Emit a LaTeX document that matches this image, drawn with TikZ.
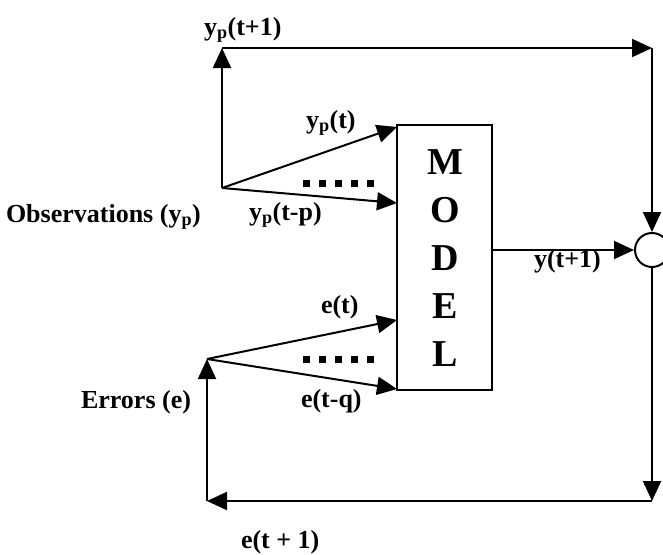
\documentclass[tikz,border=0pt]{standalone}
\usepackage{fontspec}
\setmainfont{Liberation Serif}
\usetikzlibrary{arrows.meta}

\begin{document}
\begin{tikzpicture}[x=1pt, y=-1pt, line width=2pt, >={Triangle[length=20pt, width=18pt]},
  lbl/.style={font=\fontsize{26}{30}\selectfont\bfseries, inner sep=0pt, anchor=base west},
  ltr/.style={font=\fontsize{38}{40}\selectfont\bfseries, inner sep=0pt},
  sq/.style={fill, minimum size=7pt, inner sep=0pt, line width=0pt}]
\useasboundingbox (0,0) rectangle (663,554);
% model block and summing point
\node[draw, minimum width=95pt, minimum height=265pt, inner sep=0pt] (model) at (444.5,257.5) {};
\foreach \ch [count=\i] in {M,O,D,E,L}
  \node[ltr] (let\i) at (445, 114+48*\i) {\ch};
\node[draw, circle, minimum size=34pt, inner sep=0pt] (sum) at (652,250) {};
% corners and fan points
\coordinate (yfan) at (222,188);
\coordinate (efan) at (207,359);
\coordinate (tl) at (222,48);
\coordinate (tr) at (652,48);
\coordinate (br) at (652,501);
\coordinate (bl) at (207,501);
\coordinate (yin1) at (397,127);
\coordinate (yin2) at (397,203);
\coordinate (ein1) at (397,320);
\coordinate (ein2) at (397,389);
% dots
\foreach \k in {0,...,4} {
  \node[sq] (yd\k) at (306+16*\k, 183) {};
  \node[sq] (ed\k) at (306+16*\k, 359.5) {};
}
% labels
\node[lbl] (lyp1) at (203,35) {y\textsubscript{p}(t+1)};
\node[lbl] (lypt) at (305,128) {y\textsubscript{p}(t)};
\node[lbl] (lypp) at (248,220) {y\textsubscript{p}(t-p)};
\node[lbl] (lobs) at (5,222) {Observations (y\textsubscript{p})};
\node[lbl] (let) at (320,313) {e(t)};
\node[lbl] (letq) at (300,407) {e(t-q)};
\node[lbl] (lerr) at (80,408) {Errors (e)};
\node[lbl] (le1) at (240,548) {e(t + 1)};
\node[lbl] (ly1) at (533,267) {y(t+1)};
% connectors
\draw[->] (yfan) -- (yin1);
\draw[->] (yfan) -- (yin2);
\draw[->] (efan) -- (ein1);
\draw[->] (efan) -- (ein2);
\draw[->] (yfan) -- (tl);
\draw[->] (tl) -- (tr);
\draw[->] (tr) -- (sum.north);
\draw[->] (model.east |- sum.west) -- (sum.west);
\draw[->] (sum.south) -- (br);
\draw[->] (br) -- (bl);
\draw[->] (bl) -- (efan);
\end{tikzpicture}
\end{document}
